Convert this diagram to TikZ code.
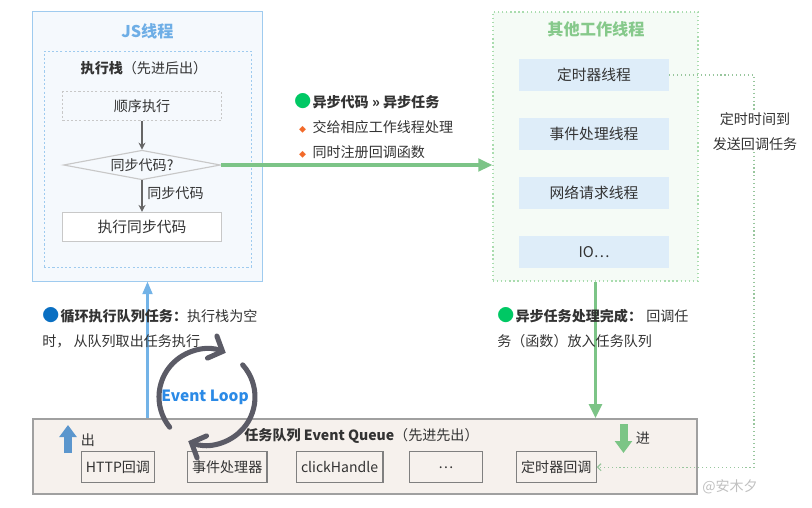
\documentclass[tikz,border=0pt]{standalone}
\usepackage{fontspec}
\setmainfont{Noto Sans CJK SC}
\usetikzlibrary{arrows.meta,shapes.geometric}
\definecolor{jsline}{HTML}{9FCBEF}
\definecolor{jsfill}{HTML}{F5F9FD}
\definecolor{jstitle}{HTML}{6EAEE6}
\definecolor{othline}{HTML}{A9DCAE}
\definecolor{othfill}{HTML}{F5FBF6}
\definecolor{othtitle}{HTML}{86C98B}
\definecolor{thrfill}{HTML}{DEEDF9}
\definecolor{grn}{HTML}{7CC487}
\definecolor{blu}{HTML}{73B3E7}
\definecolor{qfill}{HTML}{F6F1ED}
\definecolor{qline}{HTML}{A0A0A0}
\definecolor{itemline}{HTML}{808080}
\definecolor{boxline}{HTML}{C8C8C8}
\definecolor{loopc}{HTML}{5B5B66}
\definecolor{looptext}{HTML}{2B8AE6}
\definecolor{dotgreen}{HTML}{00C864}
\definecolor{dotblue}{HTML}{0A6FC2}
\definecolor{bullet}{HTML}{F26A2A}
\definecolor{outc}{HTML}{5B96CD}
\definecolor{inc}{HTML}{7CC586}
\definecolor{txt}{HTML}{333333}
\definecolor{wm}{HTML}{C0C0C0}

\begin{document}
\begin{tikzpicture}[x=0.025cm,y=-0.025cm,>=Stealth,font=\fontsize{10}{12}\selectfont,text=txt]
\useasboundingbox (0,0) rectangle (812,508);
\tikzstyle{thr}=[fill=thrfill,minimum width=3.75cm,minimum height=0.8cm,font=\fontsize{10.5}{12}\selectfont]
\tikzstyle{item}=[draw=itemline,fill=qfill,line width=0.9pt,minimum height=0.775cm,font=\fontsize{10}{12}\selectfont]
\tikzstyle{darr}=[draw=black!60,line width=0.9pt,-{Stealth[length=5pt,width=5pt]}]
\tikzstyle{garr}=[draw=grn,line width=2.3pt,-{Triangle[length=10pt,width=9pt]}]
\tikzstyle{barr}=[draw=blu,line width=1.8pt,-{Triangle[length=9pt,width=7pt]}]
\tikzstyle{lp}=[draw=loopc,line width=3.6pt,line cap=round,-{Straight Barb[length=8pt,width=17pt,line cap=round]}]
\tikzstyle{desc}=[anchor=west,align=left,inner sep=0pt,font=\fontsize{10}{17.6}\selectfont]
\node[draw=jsline,fill=jsfill,line width=0.7pt,minimum width=5.725cm,minimum height=6.725cm] (js) at (147.5,146.5) {};
\node[font=\fontsize{11.5}{12}\selectfont\bfseries,text=jstitle] (jst) at (147.5,31) {JS线程};
\node[draw=jsline,dash pattern=on 1.5pt off 1.5pt,line width=0.6pt,minimum width=5.175cm,minimum height=5.4cm] (stk) at (147.5,159) {};
\node (stkt) at (144,68) {\textbf{执行栈}（先进后出）};
\node[draw=boxline,dash pattern=on 1.5pt off 1.5pt,line width=0.8pt,minimum width=3.975cm,minimum height=0.725cm] (seq) at (142,106) {顺序执行};
\node[diamond,draw=boxline,line width=0.8pt,aspect=5.4,inner sep=0pt,minimum width=3.925cm,minimum height=0.74cm] (dia) at (142,165) {同步代码?};
\node[draw=boxline,fill=white,line width=0.8pt,minimum width=3.975cm,minimum height=0.725cm,font=\fontsize{10.5}{12}\selectfont] (run) at (142,227) {执行同步代码};
\draw[darr] (seq) -- (dia);
\draw[darr] (dia) -- node[right,pos=0.4] {同步代码} (run);
\node[draw=othline,dotted,line width=0.9pt,fill=othfill,minimum width=5.125cm,minimum height=6.725cm] (oth) at (595.5,146.5) {};
\node[font=\fontsize{11.5}{12}\selectfont\bfseries,text=othtitle] (otht) at (596,29) {其他工作线程};
\foreach \i/\t in {0/定时器线程,1/事件处理线程,2/网络请求线程,3/IO\ldots} \node[thr] (t\i) at (594,75+\i*59) {\t};
\draw[garr] (dia.east) -- (dia.east -| oth.west);
\node[desc] (asy) at (294,126) {{\color{dotgreen}\large●}\hspace{1pt}\textbf{异步代码 » 异步任务}\\
\hspace{3.5pt}{\color{bullet}\tiny◆}\hspace{4.5pt}交给相应工作线程处理\\
\hspace{3.5pt}{\color{bullet}\tiny◆}\hspace{4.5pt}同时注册回调函数};
\node[draw=qline,fill=qfill,line width=1pt,minimum width=16.6cm,minimum height=1.875cm] (q) at (365,456.5) {};
\node (qt) at (361.5,436) {\textbf{任务队列 Event Queue}（先进先出）};
\foreach \n/\x/\w/\t in {1/118/1.815/HTTP回调,2/227.2/1.975/事件处理器,3/339.6/1.98/clickHandle,4/445.8/1.825/\ldots,5/556.3/1.983/定时器回调} \node[item,minimum width=\w cm] (q\n) at (\x,467.2) {\t};
\draw[outc,line width=0.2cm,-{Triangle[length=0.3cm,width=0.42cm]}] (68,453) -- (68,425);
\node (outl) at (88,440) {出};
\draw[inc,line width=0.2cm,-{Triangle[length=0.3cm,width=0.42cm]}] (623.5,424) -- (623.5,453);
\node (inl) at (643,438) {进};
\draw[barr] (js.south |- q.north) -- (js.south);
\draw[garr] (oth.south) -- (oth.south |- q.north);
\coordinate (tc) at (754,75);
\draw[othline!90!black,dotted,line width=0.8pt,-{Straight Barb[length=2.5pt,width=5pt]}] (t0.east) -- (tc) |- (q5.east);
\node[fill=white,align=center,inner sep=1pt,font=\fontsize{10}{17.8}\selectfont] (tml) at (755,131.5) {定时时间到\\发送回调任务};
\node[desc] (loopd) at (42,328) {{\color{dotblue}\large●}\hspace{1pt}\textbf{循环执行队列任务：}执行栈为空\\时， 从队列取出任务执行};
\node[desc] (done) at (497,328) {{\color{dotgreen}\large●}\hspace{1pt}\textbf{异步任务处理完成：}\hspace{3pt}回调任\\务（函数）放入任务队列};
\coordinate (lc) at (207,397);
\draw[lp] (lc) ++(141:48) arc (141:293:48);
\draw[lp] (lc) ++(-42:48) arc (-42:113:48);
\node[font=\fontsize{11}{12}\selectfont\bfseries,text=looptext] (el) at (205,397) {Event Loop};
\node[text=wm] (wmk) at (730,487) {@安木夕};
\end{tikzpicture}
\end{document}
